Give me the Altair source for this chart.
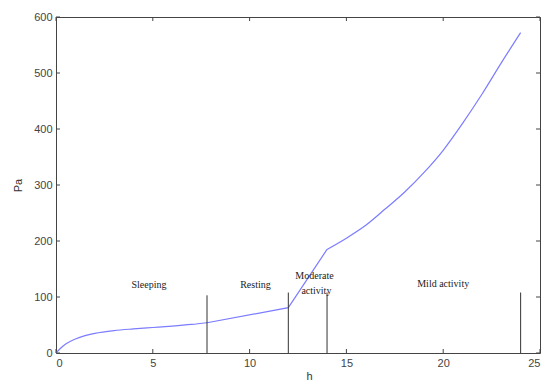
import altair as alt
import pandas as pd

# Curve data (h, Pa), split into phases
hours = [0, 0.25, 0.5, 1, 1.5, 2, 3, 4, 5, 6, 7, 7.8,
         12, 14, 15, 16, 17, 18, 19, 20, 21, 22, 23, 24]
pa = [0, 9, 16, 25, 31, 35, 40, 43, 45.5, 48, 51, 54,
      81, 185, 205, 228, 257, 287, 322, 362, 410, 462, 518, 572]
phase = ["a"] * 12 + ["b", "c"] + ["c"] * 10

# Phase separators
sep_x = [7.8, 12, 14, 24]
sep_top = [103, 108, 108, 108]

# Phase labels
lab_text = ["Sleeping", "Resting", "Moderate", "activity", "Mild activity"]
lab_x = [4.8, 10.3, 13.35, 13.45, 20.0]
lab_y = [122, 122, 138, 110, 123]

xticks = [0, 5, 10, 15, 20, 25]
yticks = [0, 100, 200, 300, 400, 500, 600]

W, H = 484, 336

curve = pd.DataFrame({"h": hours, "Pa": pa, "phase": phase})
sleep = curve[curve.phase == "a"]
mid = curve.iloc[11:14]
mild = curve[curve.phase == "c"]
seps = pd.DataFrame({"h": sep_x, "y0": [0] * len(sep_x), "top": sep_top})
labs = pd.DataFrame({"h": lab_x, "Pa": lab_y, "t": lab_text})
xt = pd.DataFrame({"v": xticks})
yt = pd.DataFrame({"v": yticks})

xs = alt.Scale(domain=[0, 25], nice=False, zero=False)
ys = alt.Scale(domain=[0, 600], nice=False, zero=False)

axis_common = dict(grid=False, domain=False, ticks=False, labelFont="Liberation Sans",
                   labelFontSize=11, labelColor="#444", titleFont="Liberation Sans",
                   titleFontSize=11, titleFontWeight="normal", titleColor="#333",
                   labelPadding=4)

LC = "#7c7cff"

line1 = alt.Chart(sleep).mark_line(color=LC, strokeWidth=1.2, interpolate="monotone").encode(
    x=alt.X("h:Q", scale=xs, axis=alt.Axis(values=xticks, title="h", titlePadding=2,
                                           titleX=253, **axis_common)),
    y=alt.Y("Pa:Q", scale=ys, axis=alt.Axis(values=yticks, title="Pa", titlePadding=10,
                                            **axis_common)),
)
line2 = alt.Chart(mid).mark_line(color=LC, strokeWidth=1.2).encode(x="h:Q", y="Pa:Q")
line3 = alt.Chart(mild).mark_line(color=LC, strokeWidth=1.2, interpolate="monotone").encode(
    x="h:Q", y="Pa:Q")

sep = alt.Chart(seps).mark_rule(color="#333", strokeWidth=1).encode(
    x="h:Q", y="y0:Q", y2="top:Q"
)

text = alt.Chart(labs).mark_text(font="Liberation Serif", fontSize=10, color="#222").encode(
    x="h:Q", y="Pa:Q", text="t:N"
)

tb = alt.Chart(xt).mark_rule(color="#444").encode(x="v:Q", y=alt.value(H), y2=alt.value(H - 4))
tt = alt.Chart(xt).mark_rule(color="#444").encode(x="v:Q", y=alt.value(0), y2=alt.value(4))
tl = alt.Chart(yt).mark_rule(color="#444").encode(y="v:Q", x=alt.value(0), x2=alt.value(4))
tr = alt.Chart(yt).mark_rule(color="#444").encode(y="v:Q", x=alt.value(W), x2=alt.value(W - 4))

chart = alt.layer(line1, line2, line3, sep, text, tb, tt, tl, tr).properties(
    width=W, height=H,
    autosize=alt.AutoSizeParams(type="none"),
    padding={"left": 56, "top": 17, "right": 6, "bottom": 27},
    background="white",
).configure_view(stroke="#444", strokeWidth=1)

chart.save("out.html", embed_options={"renderer": "svg", "actions": False})
